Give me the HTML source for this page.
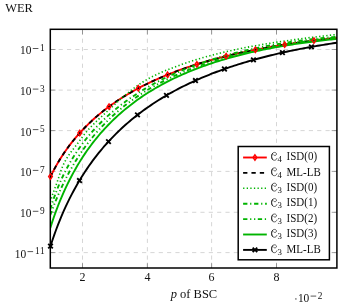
<!DOCTYPE html>
<html><head><meta charset="utf-8"><title>WER plot</title>
<style>html,body{margin:0;padding:0;background:#fff;}svg{display:block;will-change:transform;}</style></head>
<body>
<svg width="338" height="305" viewBox="0 0 338 305">
<rect width="338" height="305" fill="#fff"/>
<defs><clipPath id="cp"><rect x="50.3" y="29.3" width="286.59999999999997" height="238.7"/></clipPath></defs>
<line x1="82.50" y1="268.0" x2="82.50" y2="29.3" stroke="#c4c4c4" stroke-width="0.7" stroke-dasharray="4.17 4.17"/>
<line x1="147.40" y1="268.0" x2="147.40" y2="29.3" stroke="#c4c4c4" stroke-width="0.7" stroke-dasharray="4.17 4.17"/>
<line x1="211.60" y1="268.0" x2="211.60" y2="29.3" stroke="#c4c4c4" stroke-width="0.7" stroke-dasharray="4.17 4.17"/>
<line x1="276.50" y1="268.0" x2="276.50" y2="29.3" stroke="#c4c4c4" stroke-width="0.7" stroke-dasharray="4.17 4.17"/>
<line x1="50.3" y1="49.50" x2="336.9" y2="49.50" stroke="#c4c4c4" stroke-width="0.7" stroke-dasharray="4.17 4.17"/>
<line x1="50.3" y1="90.10" x2="336.9" y2="90.10" stroke="#c4c4c4" stroke-width="0.7" stroke-dasharray="4.17 4.17"/>
<line x1="50.3" y1="130.60" x2="336.9" y2="130.60" stroke="#c4c4c4" stroke-width="0.7" stroke-dasharray="4.17 4.17"/>
<line x1="50.3" y1="171.40" x2="336.9" y2="171.40" stroke="#c4c4c4" stroke-width="0.7" stroke-dasharray="4.17 4.17"/>
<line x1="50.3" y1="212.30" x2="336.9" y2="212.30" stroke="#c4c4c4" stroke-width="0.7" stroke-dasharray="4.17 4.17"/>
<line x1="50.3" y1="252.60" x2="336.9" y2="252.60" stroke="#c4c4c4" stroke-width="0.7" stroke-dasharray="4.17 4.17"/>
<line x1="82.50" y1="268.0" x2="82.50" y2="262.8" stroke="#666" stroke-width="0.6"/>
<line x1="82.50" y1="29.3" x2="82.50" y2="34.5" stroke="#666" stroke-width="0.6"/>
<line x1="147.40" y1="268.0" x2="147.40" y2="262.8" stroke="#666" stroke-width="0.6"/>
<line x1="147.40" y1="29.3" x2="147.40" y2="34.5" stroke="#666" stroke-width="0.6"/>
<line x1="211.60" y1="268.0" x2="211.60" y2="262.8" stroke="#666" stroke-width="0.6"/>
<line x1="211.60" y1="29.3" x2="211.60" y2="34.5" stroke="#666" stroke-width="0.6"/>
<line x1="276.50" y1="268.0" x2="276.50" y2="262.8" stroke="#666" stroke-width="0.6"/>
<line x1="276.50" y1="29.3" x2="276.50" y2="34.5" stroke="#666" stroke-width="0.6"/>
<line x1="50.3" y1="49.50" x2="55.5" y2="49.50" stroke="#666" stroke-width="0.6"/>
<line x1="336.9" y1="49.50" x2="331.7" y2="49.50" stroke="#666" stroke-width="0.6"/>
<line x1="50.3" y1="90.10" x2="55.5" y2="90.10" stroke="#666" stroke-width="0.6"/>
<line x1="336.9" y1="90.10" x2="331.7" y2="90.10" stroke="#666" stroke-width="0.6"/>
<line x1="50.3" y1="130.60" x2="55.5" y2="130.60" stroke="#666" stroke-width="0.6"/>
<line x1="336.9" y1="130.60" x2="331.7" y2="130.60" stroke="#666" stroke-width="0.6"/>
<line x1="50.3" y1="171.40" x2="55.5" y2="171.40" stroke="#666" stroke-width="0.6"/>
<line x1="336.9" y1="171.40" x2="331.7" y2="171.40" stroke="#666" stroke-width="0.6"/>
<line x1="50.3" y1="212.30" x2="55.5" y2="212.30" stroke="#666" stroke-width="0.6"/>
<line x1="336.9" y1="212.30" x2="331.7" y2="212.30" stroke="#666" stroke-width="0.6"/>
<line x1="50.3" y1="252.60" x2="55.5" y2="252.60" stroke="#666" stroke-width="0.6"/>
<line x1="336.9" y1="252.60" x2="331.7" y2="252.60" stroke="#666" stroke-width="0.6"/>
<g clip-path="url(#cp)" fill="none" stroke-linejoin="round">
<path d="M50.30,177.02 L52.24,173.11 L54.17,169.40 L56.11,165.88 L58.05,162.53 L59.98,159.32 L61.92,156.26 L63.86,153.32 L65.80,150.50 L67.73,147.79 L69.67,145.18 L71.61,142.67 L73.54,140.24 L75.48,137.90 L77.42,135.63 L79.35,133.43 L81.29,131.31 L83.23,129.24 L85.16,127.24 L87.10,125.30 L89.04,123.41 L90.98,121.58 L92.91,119.79 L94.85,118.06 L96.79,116.37 L98.72,114.72 L100.66,113.11 L102.60,111.55 L104.53,110.02 L106.47,108.53 L108.41,107.08 L110.34,105.65 L112.28,104.27 L114.22,102.91 L116.16,101.58 L118.09,100.29 L120.03,99.02 L121.97,97.78 L123.90,96.56 L125.84,95.38 L127.78,94.21 L129.71,93.07 L131.65,91.95 L133.59,90.86 L135.52,89.79 L137.46,88.74 L139.40,87.71 L141.33,86.70 L143.27,85.70 L145.21,84.73 L147.15,83.78 L149.08,82.84 L151.02,81.92 L152.96,81.02 L154.89,80.14 L156.83,79.27 L158.77,78.41 L160.70,77.58 L162.64,76.75 L164.58,75.94 L166.51,75.15 L168.45,74.37 L170.39,73.60 L172.33,72.85 L174.26,72.11 L176.20,71.38 L178.14,70.66 L180.07,69.96 L182.01,69.27 L183.95,68.58 L185.88,67.91 L187.82,67.26 L189.76,66.61 L191.69,65.97 L193.63,65.34 L195.57,64.73 L197.51,64.12 L199.44,63.52 L201.38,62.94 L203.32,62.36 L205.25,61.79 L207.19,61.23 L209.13,60.68 L211.06,60.13 L213.00,59.60 L214.94,59.07 L216.87,58.56 L218.81,58.05 L220.75,57.54 L222.69,57.05 L224.62,56.56 L226.56,56.09 L228.50,55.61 L230.43,55.15 L232.37,54.69 L234.31,54.24 L236.24,53.80 L238.18,53.36 L240.12,52.93 L242.05,52.51 L243.99,52.09 L245.93,51.68 L247.87,51.27 L249.80,50.87 L251.74,50.48 L253.68,50.09 L255.61,49.71 L257.55,49.34 L259.49,48.97 L261.42,48.60 L263.36,48.24 L265.30,47.89 L267.23,47.54 L269.17,47.20 L271.11,46.86 L273.04,46.53 L274.98,46.20 L276.92,45.88 L278.86,45.56 L280.79,45.25 L282.73,44.94 L284.67,44.63 L286.60,44.33 L288.54,44.04 L290.48,43.75 L292.41,43.46 L294.35,43.18 L296.29,42.90 L298.22,42.63 L300.16,42.36 L302.10,42.09 L304.04,41.83 L305.97,41.57 L307.91,41.32 L309.85,41.07 L311.78,40.83 L313.72,40.58 L315.66,40.35 L317.59,40.11 L319.53,39.88 L321.47,39.65 L323.40,39.43 L325.34,39.21 L327.28,38.99 L329.22,38.78 L331.15,38.57 L333.09,38.36 L335.03,38.16 L336.96,37.96 L338.90,37.76" stroke="#ff0000" stroke-width="1.9"/>
<path d="M50.30,177.02 L52.24,173.11 L54.17,169.40 L56.11,165.88 L58.05,162.53 L59.98,159.32 L61.92,156.26 L63.86,153.32 L65.80,150.50 L67.73,147.79 L69.67,145.18 L71.61,142.67 L73.54,140.24 L75.48,137.90 L77.42,135.63 L79.35,133.43 L81.29,131.31 L83.23,129.24 L85.16,127.24 L87.10,125.30 L89.04,123.41 L90.98,121.58 L92.91,119.79 L94.85,118.06 L96.79,116.37 L98.72,114.72 L100.66,113.11 L102.60,111.55 L104.53,110.02 L106.47,108.53 L108.41,107.08 L110.34,105.65 L112.28,104.27 L114.22,102.91 L116.16,101.58 L118.09,100.29 L120.03,99.02 L121.97,97.78 L123.90,96.56 L125.84,95.38 L127.78,94.21 L129.71,93.07 L131.65,91.95 L133.59,90.86 L135.52,89.79 L137.46,88.74 L139.40,87.71 L141.33,86.70 L143.27,85.70 L145.21,84.73 L147.15,83.78 L149.08,82.84 L151.02,81.92 L152.96,81.02 L154.89,80.14 L156.83,79.27 L158.77,78.41 L160.70,77.58 L162.64,76.75 L164.58,75.94 L166.51,75.15 L168.45,74.37 L170.39,73.60 L172.33,72.85 L174.26,72.11 L176.20,71.38 L178.14,70.66 L180.07,69.96 L182.01,69.27 L183.95,68.58 L185.88,67.91 L187.82,67.26 L189.76,66.61 L191.69,65.97 L193.63,65.34 L195.57,64.73 L197.51,64.12 L199.44,63.52 L201.38,62.94 L203.32,62.36 L205.25,61.79 L207.19,61.23 L209.13,60.68 L211.06,60.13 L213.00,59.60 L214.94,59.07 L216.87,58.56 L218.81,58.05 L220.75,57.54 L222.69,57.05 L224.62,56.56 L226.56,56.09 L228.50,55.61 L230.43,55.15 L232.37,54.69 L234.31,54.24 L236.24,53.80 L238.18,53.36 L240.12,52.93 L242.05,52.51 L243.99,52.09 L245.93,51.68 L247.87,51.27 L249.80,50.87 L251.74,50.48 L253.68,50.09 L255.61,49.71 L257.55,49.34 L259.49,48.97 L261.42,48.60 L263.36,48.24 L265.30,47.89 L267.23,47.54 L269.17,47.20 L271.11,46.86 L273.04,46.53 L274.98,46.20 L276.92,45.88 L278.86,45.56 L280.79,45.25 L282.73,44.94 L284.67,44.63 L286.60,44.33 L288.54,44.04 L290.48,43.75 L292.41,43.46 L294.35,43.18 L296.29,42.90 L298.22,42.63 L300.16,42.36 L302.10,42.09 L304.04,41.83 L305.97,41.57 L307.91,41.32 L309.85,41.07 L311.78,40.83 L313.72,40.58 L315.66,40.35 L317.59,40.11 L319.53,39.88 L321.47,39.65 L323.40,39.43 L325.34,39.21 L327.28,38.99 L329.22,38.78 L331.15,38.57 L333.09,38.36 L335.03,38.16 L336.96,37.96 L338.90,37.76" stroke="#000" stroke-width="1.9" stroke-dasharray="4.3 4.05"/>
<path d="M50.30,201.97 L52.24,195.60 L54.17,190.26 L56.11,184.97 L58.05,179.50 L59.98,173.43 L61.92,168.03 L63.86,163.60 L65.80,159.87 L67.73,156.67 L69.67,153.82 L71.61,151.20 L73.54,148.70 L75.48,146.24 L77.42,143.74 L79.35,141.16 L81.29,138.47 L83.23,135.83 L85.16,133.36 L87.10,131.05 L89.04,128.87 L90.98,126.79 L92.91,124.80 L94.85,122.87 L96.79,121.00 L98.72,119.17 L100.66,117.37 L102.60,115.59 L104.53,113.82 L106.47,112.05 L108.41,110.28 L110.34,108.50 L112.28,106.71 L114.22,104.93 L116.16,103.16 L118.09,101.40 L120.03,99.66 L121.97,97.95 L123.90,96.27 L125.84,94.63 L127.78,93.02 L129.71,91.44 L131.65,89.92 L133.59,88.43 L135.52,86.99 L137.46,85.60 L139.40,84.26 L141.33,82.97 L143.27,81.73 L145.21,80.54 L147.15,79.40 L149.08,78.32 L151.02,77.28 L152.96,76.29 L154.89,75.34 L156.83,74.42 L158.77,73.53 L160.70,72.67 L162.64,71.83 L164.58,71.01 L166.51,70.22 L168.45,69.43 L170.39,68.67 L172.33,67.91 L174.26,67.17 L176.20,66.44 L178.14,65.73 L180.07,65.03 L182.01,64.34 L183.95,63.67 L185.88,63.00 L187.82,62.35 L189.76,61.71 L191.69,61.09 L193.63,60.47 L195.57,59.87 L197.51,59.27 L199.44,58.69 L201.38,58.12 L203.32,57.56 L205.25,57.01 L207.19,56.47 L209.13,55.94 L211.06,55.42 L213.00,54.91 L214.94,54.41 L216.87,53.92 L218.81,53.43 L220.75,52.96 L222.69,52.50 L224.62,52.04 L226.56,51.59 L228.50,51.15 L230.43,50.72 L232.37,50.29 L234.31,49.87 L236.24,49.46 L238.18,49.06 L240.12,48.66 L242.05,48.27 L243.99,47.88 L245.93,47.50 L247.87,47.13 L249.80,46.76 L251.74,46.40 L253.68,46.05 L255.61,45.69 L257.55,45.35 L259.49,45.01 L261.42,44.67 L263.36,44.34 L265.30,44.02 L267.23,43.70 L269.17,43.38 L271.11,43.07 L273.04,42.76 L274.98,42.46 L276.92,42.16 L278.86,41.86 L280.79,41.57 L282.73,41.29 L284.67,41.00 L286.60,40.72 L288.54,40.45 L290.48,40.18 L292.41,39.91 L294.35,39.64 L296.29,39.38 L298.22,39.12 L300.16,38.86 L302.10,38.61 L304.04,38.36 L305.97,38.12 L307.91,37.87 L309.85,37.63 L311.78,37.39 L313.72,37.16 L315.66,36.93 L317.59,36.70 L319.53,36.47 L321.47,36.24 L323.40,36.02 L325.34,35.80 L327.28,35.58 L329.22,35.37 L331.15,35.16 L333.09,34.95 L335.03,34.74 L336.96,34.53 L338.90,34.33" stroke="#00b400" stroke-width="1.6" stroke-dasharray="1.3 2.3"/>
<path d="M50.30,209.25 L52.24,203.06 L54.17,197.36 L56.11,192.08 L58.05,187.17 L59.98,182.57 L61.92,178.25 L63.86,174.18 L65.80,170.33 L67.73,166.67 L69.67,163.20 L71.61,159.88 L73.54,156.71 L75.48,153.68 L77.42,150.76 L79.35,147.96 L81.29,145.27 L83.23,142.67 L85.16,140.16 L87.10,137.74 L89.04,135.39 L90.98,133.12 L92.91,130.92 L94.85,128.79 L96.79,126.72 L98.72,124.70 L100.66,122.74 L102.60,120.84 L104.53,118.98 L106.47,117.18 L108.41,115.42 L110.34,113.70 L112.28,112.02 L114.22,110.39 L116.16,108.79 L118.09,107.24 L120.03,105.71 L121.97,104.22 L123.90,102.77 L125.84,101.34 L127.78,99.95 L129.71,98.59 L131.65,97.26 L133.59,95.95 L135.52,94.67 L137.46,93.42 L139.40,92.19 L141.33,90.99 L143.27,89.81 L145.21,88.65 L147.15,87.52 L149.08,86.41 L151.02,85.32 L152.96,84.25 L154.89,83.20 L156.83,82.18 L158.77,81.17 L160.70,80.18 L162.64,79.21 L164.58,78.25 L166.51,77.32 L168.45,76.40 L170.39,75.49 L172.33,74.61 L174.26,73.74 L176.20,72.88 L178.14,72.05 L180.07,71.22 L182.01,70.41 L183.95,69.62 L185.88,68.84 L187.82,68.07 L189.76,67.32 L191.69,66.58 L193.63,65.85 L195.57,65.13 L197.51,64.43 L199.44,63.74 L201.38,63.06 L203.32,62.40 L205.25,61.75 L207.19,61.10 L209.13,60.47 L211.06,59.85 L213.00,59.24 L214.94,58.64 L216.87,58.05 L218.81,57.48 L220.75,56.91 L222.69,56.35 L224.62,55.80 L226.56,55.26 L228.50,54.74 L230.43,54.22 L232.37,53.71 L234.31,53.20 L236.24,52.71 L238.18,52.23 L240.12,51.75 L242.05,51.29 L243.99,50.83 L245.93,50.38 L247.87,49.94 L249.80,49.50 L251.74,49.08 L253.68,48.66 L255.61,48.25 L257.55,47.85 L259.49,47.45 L261.42,47.06 L263.36,46.68 L265.30,46.31 L267.23,45.94 L269.17,45.58 L271.11,45.23 L273.04,44.88 L274.98,44.55 L276.92,44.21 L278.86,43.89 L280.79,43.57 L282.73,43.26 L284.67,42.95 L286.60,42.65 L288.54,42.35 L290.48,42.06 L292.41,41.78 L294.35,41.51 L296.29,41.23 L298.22,40.97 L300.16,40.71 L302.10,40.46 L304.04,40.21 L305.97,39.97 L307.91,39.73 L309.85,39.50 L311.78,39.27 L313.72,39.05 L315.66,38.83 L317.59,38.62 L319.53,38.42 L321.47,38.21 L323.40,38.02 L325.34,37.83 L327.28,37.64 L329.22,37.46 L331.15,37.28 L333.09,37.11 L335.03,36.94 L336.96,36.78 L338.90,36.62" stroke="#00b400" stroke-width="1.9" stroke-dasharray="4.3 2.75 1.2 2.75"/>
<path d="M50.30,214.99 L52.24,209.69 L54.17,204.64 L56.11,199.82 L58.05,195.21 L59.98,190.80 L61.92,186.58 L63.86,182.53 L65.80,178.64 L67.73,174.91 L69.67,171.32 L71.61,167.86 L73.54,164.52 L75.48,161.31 L77.42,158.20 L79.35,155.21 L81.29,152.31 L83.23,149.51 L85.16,146.80 L87.10,144.17 L89.04,141.63 L90.98,139.16 L92.91,136.77 L94.85,134.45 L96.79,132.19 L98.72,130.00 L100.66,127.87 L102.60,125.80 L104.53,123.79 L106.47,121.83 L108.41,119.93 L110.34,118.07 L112.28,116.26 L114.22,114.50 L116.16,112.78 L118.09,111.10 L120.03,109.47 L121.97,107.88 L123.90,106.32 L125.84,104.80 L127.78,103.32 L129.71,101.87 L131.65,100.45 L133.59,99.07 L135.52,97.72 L137.46,96.40 L139.40,95.11 L141.33,93.84 L143.27,92.61 L145.21,91.40 L147.15,90.21 L149.08,89.05 L151.02,87.92 L152.96,86.81 L154.89,85.72 L156.83,84.66 L158.77,83.61 L160.70,82.59 L162.64,81.59 L164.58,80.61 L166.51,79.65 L168.45,78.70 L170.39,77.78 L172.33,76.87 L174.26,75.98 L176.20,75.11 L178.14,74.25 L180.07,73.41 L182.01,72.59 L183.95,71.78 L185.88,70.99 L187.82,70.21 L189.76,69.45 L191.69,68.70 L193.63,67.96 L195.57,67.24 L197.51,66.53 L199.44,65.83 L201.38,65.15 L203.32,64.47 L205.25,63.81 L207.19,63.17 L209.13,62.53 L211.06,61.90 L213.00,61.29 L214.94,60.68 L216.87,60.09 L218.81,59.51 L220.75,58.94 L222.69,58.37 L224.62,57.82 L226.56,57.28 L228.50,56.74 L230.43,56.22 L232.37,55.70 L234.31,55.19 L236.24,54.69 L238.18,54.20 L240.12,53.72 L242.05,53.25 L243.99,52.78 L245.93,52.32 L247.87,51.87 L249.80,51.43 L251.74,50.99 L253.68,50.56 L255.61,50.14 L257.55,49.73 L259.49,49.32 L261.42,48.92 L263.36,48.53 L265.30,48.14 L267.23,47.76 L269.17,47.38 L271.11,47.01 L273.04,46.65 L274.98,46.30 L276.92,45.95 L278.86,45.60 L280.79,45.26 L282.73,44.93 L284.67,44.60 L286.60,44.28 L288.54,43.96 L290.48,43.65 L292.41,43.34 L294.35,43.04 L296.29,42.75 L298.22,42.45 L300.16,42.17 L302.10,41.89 L304.04,41.61 L305.97,41.34 L307.91,41.07 L309.85,40.81 L311.78,40.55 L313.72,40.29 L315.66,40.04 L317.59,39.80 L319.53,39.55 L321.47,39.32 L323.40,39.08 L325.34,38.85 L327.28,38.63 L329.22,38.40 L331.15,38.19 L333.09,37.97 L335.03,37.76 L336.96,37.56 L338.90,37.35" stroke="#00b400" stroke-width="1.9" stroke-dasharray="4.3 2.7 1.25 2.7 1.25 2.5"/>
<path d="M50.30,227.89 L52.24,221.91 L54.17,216.25 L56.11,210.88 L58.05,205.78 L59.98,200.93 L61.92,196.30 L63.86,191.88 L65.80,187.65 L67.73,183.60 L69.67,179.71 L71.61,175.98 L73.54,172.38 L75.48,168.93 L77.42,165.59 L79.35,162.38 L81.29,159.28 L83.23,156.28 L85.16,153.38 L87.10,150.58 L89.04,147.87 L90.98,145.24 L92.91,142.69 L94.85,140.22 L96.79,137.82 L98.72,135.49 L100.66,133.22 L102.60,131.02 L104.53,128.89 L106.47,126.81 L108.41,124.78 L110.34,122.81 L112.28,120.89 L114.22,119.02 L116.16,117.20 L118.09,115.42 L120.03,113.69 L121.97,112.00 L123.90,110.35 L125.84,108.74 L127.78,107.17 L129.71,105.64 L131.65,104.14 L133.59,102.67 L135.52,101.24 L137.46,99.84 L139.40,98.48 L141.33,97.14 L143.27,95.83 L145.21,94.55 L147.15,93.30 L149.08,92.07 L151.02,90.87 L152.96,89.70 L154.89,88.55 L156.83,87.43 L158.77,86.32 L160.70,85.24 L162.64,84.19 L164.58,83.15 L166.51,82.13 L168.45,81.14 L170.39,80.16 L172.33,79.21 L174.26,78.27 L176.20,77.35 L178.14,76.45 L180.07,75.57 L182.01,74.70 L183.95,73.85 L185.88,73.01 L187.82,72.20 L189.76,71.39 L191.69,70.61 L193.63,69.83 L195.57,69.08 L197.51,68.33 L199.44,67.60 L201.38,66.88 L203.32,66.18 L205.25,65.49 L207.19,64.81 L209.13,64.15 L211.06,63.49 L213.00,62.85 L214.94,62.22 L216.87,61.60 L218.81,61.00 L220.75,60.40 L222.69,59.81 L224.62,59.24 L226.56,58.67 L228.50,58.12 L230.43,57.58 L232.37,57.04 L234.31,56.52 L236.24,56.00 L238.18,55.49 L240.12,55.00 L242.05,54.51 L243.99,54.03 L245.93,53.56 L247.87,53.09 L249.80,52.64 L251.74,52.19 L253.68,51.75 L255.61,51.32 L257.55,50.90 L259.49,50.48 L261.42,50.08 L263.36,49.68 L265.30,49.28 L267.23,48.90 L269.17,48.52 L271.11,48.14 L273.04,47.78 L274.98,47.42 L276.92,47.07 L278.86,46.72 L280.79,46.38 L282.73,46.05 L284.67,45.72 L286.60,45.40 L288.54,45.08 L290.48,44.77 L292.41,44.47 L294.35,44.17 L296.29,43.88 L298.22,43.59 L300.16,43.31 L302.10,43.03 L304.04,42.76 L305.97,42.49 L307.91,42.23 L309.85,41.97 L311.78,41.72 L313.72,41.48 L315.66,41.24 L317.59,41.00 L319.53,40.77 L321.47,40.54 L323.40,40.32 L325.34,40.10 L327.28,39.88 L329.22,39.67 L331.15,39.47 L333.09,39.27 L335.03,39.07 L336.96,38.88 L338.90,38.69" stroke="#00b400" stroke-width="1.9"/>
<path d="M50.30,246.74 L52.24,240.79 L54.17,235.15 L56.11,229.79 L58.05,224.69 L59.98,219.83 L61.92,215.18 L63.86,210.73 L65.80,206.46 L67.73,202.37 L69.67,198.43 L71.61,194.64 L73.54,190.98 L75.48,187.46 L77.42,184.05 L79.35,180.76 L81.29,177.58 L83.23,174.50 L85.16,171.51 L87.10,168.62 L89.04,165.81 L90.98,163.08 L92.91,160.43 L94.85,157.86 L96.79,155.36 L98.72,152.92 L100.66,150.55 L102.60,148.24 L104.53,145.99 L106.47,143.80 L108.41,141.66 L110.34,139.57 L112.28,137.54 L114.22,135.55 L116.16,133.61 L118.09,131.72 L120.03,129.86 L121.97,128.05 L123.90,126.28 L125.84,124.55 L127.78,122.86 L129.71,121.20 L131.65,119.58 L133.59,118.00 L135.52,116.44 L137.46,114.92 L139.40,113.43 L141.33,111.97 L143.27,110.54 L145.21,109.13 L147.15,107.76 L149.08,106.41 L151.02,105.09 L152.96,103.79 L154.89,102.52 L156.83,101.27 L158.77,100.04 L160.70,98.84 L162.64,97.66 L164.58,96.50 L166.51,95.36 L168.45,94.25 L170.39,93.15 L172.33,92.07 L174.26,91.01 L176.20,89.97 L178.14,88.95 L180.07,87.95 L182.01,86.96 L183.95,85.99 L185.88,85.03 L187.82,84.10 L189.76,83.18 L191.69,82.27 L193.63,81.38 L195.57,80.50 L197.51,79.64 L199.44,78.79 L201.38,77.96 L203.32,77.14 L205.25,76.33 L207.19,75.54 L209.13,74.76 L211.06,73.99 L213.00,73.23 L214.94,72.49 L216.87,71.76 L218.81,71.04 L220.75,70.33 L222.69,69.63 L224.62,68.94 L226.56,68.26 L228.50,67.60 L230.43,66.94 L232.37,66.30 L234.31,65.66 L236.24,65.04 L238.18,64.42 L240.12,63.81 L242.05,63.22 L243.99,62.63 L245.93,62.05 L247.87,61.48 L249.80,60.92 L251.74,60.36 L253.68,59.82 L255.61,59.28 L257.55,58.75 L259.49,58.23 L261.42,57.72 L263.36,57.22 L265.30,56.72 L267.23,56.23 L269.17,55.75 L271.11,55.27 L273.04,54.80 L274.98,54.34 L276.92,53.89 L278.86,53.44 L280.79,53.00 L282.73,52.56 L284.67,52.14 L286.60,51.72 L288.54,51.30 L290.48,50.89 L292.41,50.49 L294.35,50.09 L296.29,49.70 L298.22,49.32 L300.16,48.94 L302.10,48.57 L304.04,48.20 L305.97,47.84 L307.91,47.48 L309.85,47.13 L311.78,46.78 L313.72,46.44 L315.66,46.11 L317.59,45.78 L319.53,45.45 L321.47,45.13 L323.40,44.82 L325.34,44.50 L327.28,44.20 L329.22,43.90 L331.15,43.60 L333.09,43.31 L335.03,43.02 L336.96,42.74 L338.90,42.46" stroke="#000" stroke-width="1.9"/>
</g>
<rect x="50.3" y="29.3" width="286.59999999999997" height="238.7" fill="none" stroke="#000" stroke-width="1.5"/>
<path d="M50.50,173.95 L52.35,176.60 L50.50,179.25 L48.65,176.60 Z" fill="none" stroke="#ff0000" stroke-width="1.45" stroke-linejoin="miter"/>
<path d="M79.77,130.32 L81.62,132.97 L79.77,135.62 L77.92,132.97 Z" fill="none" stroke="#ff0000" stroke-width="1.45" stroke-linejoin="miter"/>
<path d="M109.04,103.96 L110.89,106.61 L109.04,109.26 L107.19,106.61 Z" fill="none" stroke="#ff0000" stroke-width="1.45" stroke-linejoin="miter"/>
<path d="M138.31,85.63 L140.16,88.28 L138.31,90.93 L136.46,88.28 Z" fill="none" stroke="#ff0000" stroke-width="1.45" stroke-linejoin="miter"/>
<path d="M167.58,72.07 L169.43,74.72 L167.58,77.37 L165.73,74.72 Z" fill="none" stroke="#ff0000" stroke-width="1.45" stroke-linejoin="miter"/>
<path d="M196.85,61.67 L198.70,64.32 L196.85,66.97 L195.00,64.32 Z" fill="none" stroke="#ff0000" stroke-width="1.45" stroke-linejoin="miter"/>
<path d="M226.12,53.54 L227.97,56.19 L226.12,58.84 L224.27,56.19 Z" fill="none" stroke="#ff0000" stroke-width="1.45" stroke-linejoin="miter"/>
<path d="M255.39,47.11 L257.24,49.76 L255.39,52.41 L253.54,49.76 Z" fill="none" stroke="#ff0000" stroke-width="1.45" stroke-linejoin="miter"/>
<path d="M284.66,41.98 L286.51,44.63 L284.66,47.28 L282.81,44.63 Z" fill="none" stroke="#ff0000" stroke-width="1.45" stroke-linejoin="miter"/>
<path d="M313.93,37.91 L315.78,40.56 L313.93,43.21 L312.08,40.56 Z" fill="none" stroke="#ff0000" stroke-width="1.45" stroke-linejoin="miter"/>
<path d="M48.20,243.81 L52.80,248.41 M48.20,248.41 L52.80,243.81" stroke="#000" stroke-width="1.85"/>
<path d="M77.19,178.23 L81.79,182.83 M77.19,182.83 L81.79,178.23" stroke="#000" stroke-width="1.85"/>
<path d="M106.18,139.28 L110.78,143.88 M106.18,143.88 L110.78,139.28" stroke="#000" stroke-width="1.85"/>
<path d="M135.17,112.61 L139.77,117.21 M135.17,117.21 L139.77,112.61" stroke="#000" stroke-width="1.85"/>
<path d="M164.16,93.10 L168.76,97.70 M164.16,97.70 L168.76,93.10" stroke="#000" stroke-width="1.85"/>
<path d="M193.15,78.26 L197.75,82.86 M193.15,82.86 L197.75,78.26" stroke="#000" stroke-width="1.85"/>
<path d="M222.14,66.71 L226.74,71.31 M222.14,71.31 L226.74,66.71" stroke="#000" stroke-width="1.85"/>
<path d="M251.13,57.59 L255.73,62.19 M251.13,62.19 L255.73,57.59" stroke="#000" stroke-width="1.85"/>
<path d="M280.12,50.33 L284.72,54.93 M280.12,54.93 L284.72,50.33" stroke="#000" stroke-width="1.85"/>
<path d="M309.11,44.55 L313.71,49.15 M309.11,49.15 L313.71,44.55" stroke="#000" stroke-width="1.85"/>
<rect x="238.2" y="146.5" width="91.19999999999999" height="113.30000000000001" fill="#fff" stroke="#000" stroke-width="1.5"/>
<line x1="243.1" y1="157.50" x2="266.8" y2="157.50" stroke="#ff0000" stroke-width="1.9"/>
<path d="M254.95,154.85 L256.80,157.50 L254.95,160.15 L253.10,157.50 Z" fill="none" stroke="#ff0000" stroke-width="1.45" stroke-linejoin="miter"/>
<path d="M273.70,155.00 C274.30,155.70 275.60,155.70 276.20,154.90 C276.90,153.90 276.30,152.50 274.60,152.40 C272.90,152.30 271.60,154.20 271.60,156.40 C271.60,158.90 272.80,160.30 274.40,160.30 C275.60,160.30 276.50,159.60 276.90,158.40" fill="none" stroke="#222" stroke-width="0.7" stroke-linecap="round"/><path d="M272.70,153.20 C271.90,154.20 271.60,155.30 271.60,156.40 C271.60,157.80 272.00,158.90 272.70,159.60" fill="none" stroke="#222" stroke-width="1.0" stroke-linecap="round"/>
<text x="277.4" y="162.20" font-family="Liberation Serif, serif" font-size="8.8" fill="#111">4</text>
<text x="286.6" y="160.10" font-family="Liberation Serif, serif" font-size="11.8" fill="#111" textLength="30.5" lengthAdjust="spacingAndGlyphs">ISD(0)</text>
<line x1="243.1" y1="172.90" x2="266.8" y2="172.90" stroke="#000" stroke-width="1.9" stroke-dasharray="4.3 4.05"/>
<path d="M273.70,170.40 C274.30,171.10 275.60,171.10 276.20,170.30 C276.90,169.30 276.30,167.90 274.60,167.80 C272.90,167.70 271.60,169.60 271.60,171.80 C271.60,174.30 272.80,175.70 274.40,175.70 C275.60,175.70 276.50,175.00 276.90,173.80" fill="none" stroke="#222" stroke-width="0.7" stroke-linecap="round"/><path d="M272.70,168.60 C271.90,169.60 271.60,170.70 271.60,171.80 C271.60,173.20 272.00,174.30 272.70,175.00" fill="none" stroke="#222" stroke-width="1.0" stroke-linecap="round"/>
<text x="277.4" y="177.60" font-family="Liberation Serif, serif" font-size="8.8" fill="#111">4</text>
<text x="286.6" y="175.50" font-family="Liberation Serif, serif" font-size="11.8" fill="#111" textLength="34.2" lengthAdjust="spacingAndGlyphs">ML-LB</text>
<line x1="243.1" y1="188.30" x2="266.8" y2="188.30" stroke="#00b400" stroke-width="1.6" stroke-dasharray="1.3 2.3"/>
<path d="M273.70,185.80 C274.30,186.50 275.60,186.50 276.20,185.70 C276.90,184.70 276.30,183.30 274.60,183.20 C272.90,183.10 271.60,185.00 271.60,187.20 C271.60,189.70 272.80,191.10 274.40,191.10 C275.60,191.10 276.50,190.40 276.90,189.20" fill="none" stroke="#222" stroke-width="0.7" stroke-linecap="round"/><path d="M272.70,184.00 C271.90,185.00 271.60,186.10 271.60,187.20 C271.60,188.60 272.00,189.70 272.70,190.40" fill="none" stroke="#222" stroke-width="1.0" stroke-linecap="round"/>
<text x="277.4" y="193.00" font-family="Liberation Serif, serif" font-size="8.8" fill="#111">3</text>
<text x="286.6" y="190.90" font-family="Liberation Serif, serif" font-size="11.8" fill="#111" textLength="30.5" lengthAdjust="spacingAndGlyphs">ISD(0)</text>
<line x1="243.1" y1="203.70" x2="266.8" y2="203.70" stroke="#00b400" stroke-width="1.9" stroke-dasharray="4.3 2.75 1.2 2.75"/>
<path d="M273.70,201.20 C274.30,201.90 275.60,201.90 276.20,201.10 C276.90,200.10 276.30,198.70 274.60,198.60 C272.90,198.50 271.60,200.40 271.60,202.60 C271.60,205.10 272.80,206.50 274.40,206.50 C275.60,206.50 276.50,205.80 276.90,204.60" fill="none" stroke="#222" stroke-width="0.7" stroke-linecap="round"/><path d="M272.70,199.40 C271.90,200.40 271.60,201.50 271.60,202.60 C271.60,204.00 272.00,205.10 272.70,205.80" fill="none" stroke="#222" stroke-width="1.0" stroke-linecap="round"/>
<text x="277.4" y="208.40" font-family="Liberation Serif, serif" font-size="8.8" fill="#111">3</text>
<text x="286.6" y="206.30" font-family="Liberation Serif, serif" font-size="11.8" fill="#111" textLength="30.5" lengthAdjust="spacingAndGlyphs">ISD(1)</text>
<line x1="243.1" y1="219.10" x2="266.8" y2="219.10" stroke="#00b400" stroke-width="1.9" stroke-dasharray="4.3 2.7 1.25 2.7 1.25 2.5"/>
<path d="M273.70,216.60 C274.30,217.30 275.60,217.30 276.20,216.50 C276.90,215.50 276.30,214.10 274.60,214.00 C272.90,213.90 271.60,215.80 271.60,218.00 C271.60,220.50 272.80,221.90 274.40,221.90 C275.60,221.90 276.50,221.20 276.90,220.00" fill="none" stroke="#222" stroke-width="0.7" stroke-linecap="round"/><path d="M272.70,214.80 C271.90,215.80 271.60,216.90 271.60,218.00 C271.60,219.40 272.00,220.50 272.70,221.20" fill="none" stroke="#222" stroke-width="1.0" stroke-linecap="round"/>
<text x="277.4" y="223.80" font-family="Liberation Serif, serif" font-size="8.8" fill="#111">3</text>
<text x="286.6" y="221.70" font-family="Liberation Serif, serif" font-size="11.8" fill="#111" textLength="30.5" lengthAdjust="spacingAndGlyphs">ISD(2)</text>
<line x1="243.1" y1="234.50" x2="266.8" y2="234.50" stroke="#00b400" stroke-width="1.9"/>
<path d="M273.70,232.00 C274.30,232.70 275.60,232.70 276.20,231.90 C276.90,230.90 276.30,229.50 274.60,229.40 C272.90,229.30 271.60,231.20 271.60,233.40 C271.60,235.90 272.80,237.30 274.40,237.30 C275.60,237.30 276.50,236.60 276.90,235.40" fill="none" stroke="#222" stroke-width="0.7" stroke-linecap="round"/><path d="M272.70,230.20 C271.90,231.20 271.60,232.30 271.60,233.40 C271.60,234.80 272.00,235.90 272.70,236.60" fill="none" stroke="#222" stroke-width="1.0" stroke-linecap="round"/>
<text x="277.4" y="239.20" font-family="Liberation Serif, serif" font-size="8.8" fill="#111">3</text>
<text x="286.6" y="237.10" font-family="Liberation Serif, serif" font-size="11.8" fill="#111" textLength="30.5" lengthAdjust="spacingAndGlyphs">ISD(3)</text>
<line x1="243.1" y1="249.90" x2="266.8" y2="249.90" stroke="#000" stroke-width="1.9"/>
<path d="M252.65,247.60 L257.25,252.20 M252.65,252.20 L257.25,247.60" stroke="#000" stroke-width="1.85"/>
<path d="M273.70,247.40 C274.30,248.10 275.60,248.10 276.20,247.30 C276.90,246.30 276.30,244.90 274.60,244.80 C272.90,244.70 271.60,246.60 271.60,248.80 C271.60,251.30 272.80,252.70 274.40,252.70 C275.60,252.70 276.50,252.00 276.90,250.80" fill="none" stroke="#222" stroke-width="0.7" stroke-linecap="round"/><path d="M272.70,245.60 C271.90,246.60 271.60,247.70 271.60,248.80 C271.60,250.20 272.00,251.30 272.70,252.00" fill="none" stroke="#222" stroke-width="1.0" stroke-linecap="round"/>
<text x="277.4" y="254.60" font-family="Liberation Serif, serif" font-size="8.8" fill="#111">3</text>
<text x="286.6" y="252.50" font-family="Liberation Serif, serif" font-size="11.8" fill="#111" textLength="34.2" lengthAdjust="spacingAndGlyphs">ML-LB</text>
<text x="20.10" y="54.40" font-family="Liberation Serif, serif" font-size="12" textLength="11.4" lengthAdjust="spacingAndGlyphs" fill="#111">10</text>
<line x1="32.80" y1="48.50" x2="38.40" y2="48.50" stroke="#111" stroke-width="0.7"/>
<text x="44.7" y="51.20" font-family="Liberation Serif, serif" font-size="9.3" text-anchor="end" fill="#111">1</text>
<text x="20.10" y="95.00" font-family="Liberation Serif, serif" font-size="12" textLength="11.4" lengthAdjust="spacingAndGlyphs" fill="#111">10</text>
<line x1="32.80" y1="89.10" x2="38.40" y2="89.10" stroke="#111" stroke-width="0.7"/>
<text x="44.7" y="91.80" font-family="Liberation Serif, serif" font-size="9.3" text-anchor="end" fill="#111">3</text>
<text x="20.10" y="135.50" font-family="Liberation Serif, serif" font-size="12" textLength="11.4" lengthAdjust="spacingAndGlyphs" fill="#111">10</text>
<line x1="32.80" y1="129.60" x2="38.40" y2="129.60" stroke="#111" stroke-width="0.7"/>
<text x="44.7" y="132.30" font-family="Liberation Serif, serif" font-size="9.3" text-anchor="end" fill="#111">5</text>
<text x="20.10" y="176.30" font-family="Liberation Serif, serif" font-size="12" textLength="11.4" lengthAdjust="spacingAndGlyphs" fill="#111">10</text>
<line x1="32.80" y1="170.40" x2="38.40" y2="170.40" stroke="#111" stroke-width="0.7"/>
<text x="44.7" y="173.10" font-family="Liberation Serif, serif" font-size="9.3" text-anchor="end" fill="#111">7</text>
<text x="20.10" y="217.20" font-family="Liberation Serif, serif" font-size="12" textLength="11.4" lengthAdjust="spacingAndGlyphs" fill="#111">10</text>
<line x1="32.80" y1="211.30" x2="38.40" y2="211.30" stroke="#111" stroke-width="0.7"/>
<text x="44.7" y="214.00" font-family="Liberation Serif, serif" font-size="9.3" text-anchor="end" fill="#111">9</text>
<text x="14.80" y="257.50" font-family="Liberation Serif, serif" font-size="12" textLength="11.4" lengthAdjust="spacingAndGlyphs" fill="#111">10</text>
<line x1="27.50" y1="251.60" x2="33.10" y2="251.60" stroke="#111" stroke-width="0.7"/>
<text x="39.6" y="254.30" font-family="Liberation Serif, serif" font-size="9.3" text-anchor="end" fill="#111">1</text>
<text x="44.6" y="254.30" font-family="Liberation Serif, serif" font-size="9.3" text-anchor="end" fill="#111">1</text>
<text x="82.50" y="281.1" font-family="Liberation Serif, serif" font-size="12" text-anchor="middle" fill="#111">2</text>
<text x="147.40" y="281.1" font-family="Liberation Serif, serif" font-size="12" text-anchor="middle" fill="#111">4</text>
<text x="211.60" y="281.1" font-family="Liberation Serif, serif" font-size="12" text-anchor="middle" fill="#111">6</text>
<text x="276.50" y="281.1" font-family="Liberation Serif, serif" font-size="12" text-anchor="middle" fill="#111">8</text>
<text x="5.3" y="12.2" font-family="Liberation Serif, serif" font-size="12" fill="#111" textLength="27.6" lengthAdjust="spacingAndGlyphs">WER</text>
<text x="170.7" y="298.1" font-family="Liberation Serif, serif" font-size="12" fill="#111" textLength="46.5" lengthAdjust="spacingAndGlyphs"><tspan font-style="italic">p</tspan> of BSC</text>
<circle cx="295.9" cy="298.9" r="0.65" fill="#111"/>
<text x="297.9" y="302" font-family="Liberation Serif, serif" font-size="12" textLength="11.4" lengthAdjust="spacingAndGlyphs" fill="#111">10</text>
<line x1="310.6" y1="296.1" x2="316.2" y2="296.1" stroke="#111" stroke-width="0.7"/>
<text x="322.5" y="298.9" font-family="Liberation Serif, serif" font-size="9.3" text-anchor="end" fill="#111">2</text>
</svg>
</body></html>
